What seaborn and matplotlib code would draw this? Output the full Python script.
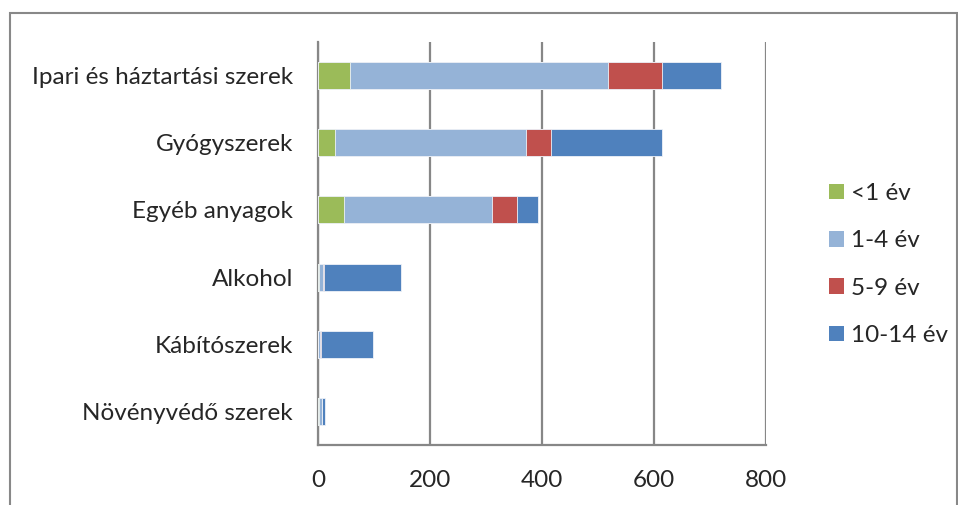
import numpy as np
import pandas as pd
import matplotlib.pyplot as plt
import seaborn as sns
from matplotlib.patches import Patch, Rectangle
from matplotlib.ticker import FixedLocator

# %% data

kategoriak = ['Ipari és háztartási szerek', 'Gyógyszerek', 'Egyéb anyagok',
              'Alkohol', 'Kábítószerek', 'Növényvédő szerek']
korcsoportok = ['<1 év', '1-4 év', '5-9 év', '10-14 év']

ev_0 = [57, 31, 47, 2, 0, 1]
ev_1_4 = [460, 340, 264, 7, 3, 6]
ev_5_9 = [97, 45, 45, 1, 2, 1]
ev_10_14 = [106, 198, 36, 138, 94, 4]

szinek = ['#9BBB59', '#95B3D7', '#C0504D', '#4F81BD']
x_ticks = [0, 200, 400, 600, 800]

# %% plot

sns.set_theme(style='white')
plt.rcParams['font.family'] = ['Lato', 'DejaVu Sans']

df = pd.DataFrame({'Kategoria': kategoriak, '<1 év': ev_0, '1-4 év': ev_1_4,
                   '5-9 év': ev_5_9, '10-14 év': ev_10_14})
cum = df[korcsoportok].cumsum(axis=1)

fig = plt.figure(figsize=(9.58, 5.05), dpi=100)
ax = fig.add_axes([318 / 958, 1 - 445 / 505, (766 - 318) / 958, (445 - 42) / 505])

# stacked bars: draw cumulative totals, biggest first
for col, szin in reversed(list(zip(korcsoportok, szinek))):
    sns.barplot(x=cum[col], y=df['Kategoria'], order=kategoriak, color=szin,
                saturation=1, width=0.4, edgecolor='#eef2f8', linewidth=0.6,
                ax=ax, zorder=3)

ax.set_xlim(0, 800)
ax.set_ylim(len(kategoriak) - 0.5, -0.5)
ax.set_xticks(x_ticks)
ax.set_xlabel('')
ax.set_ylabel('')

grid_c = '#878787'
ax.grid(axis='x', color=grid_c, linewidth=1.6, zorder=0)
ax.grid(axis='y', visible=False)
for s in ['top', 'right']:
    ax.spines[s].set_visible(False)
for s in ['left', 'bottom']:
    ax.spines[s].set_color(grid_c)
    ax.spines[s].set_linewidth(1.6)

ax.tick_params(axis='y', which='major', length=0, pad=18, labelsize=17.5)
ax.yaxis.set_minor_locator(FixedLocator(np.arange(-0.5, len(kategoriak), 1.0)))
ax.tick_params(axis='y', which='minor', length=6, width=1.6, color=grid_c, direction='out')
ax.tick_params(axis='x', length=6, width=1.6, color=grid_c, direction='out',
               pad=12, labelsize=17.5)

handles = [Patch(facecolor=c, edgecolor='none') for c in szinek]
fig.legend(handles, korcsoportok, loc='upper left', bbox_to_anchor=(817 / 958, 1 - 171 / 505),
           frameon=False, fontsize=17.5, handlelength=0.6, handleheight=0.6,
           handletextpad=0.3, labelspacing=1.08, borderpad=0)

fig.patches.append(Rectangle((10 / 958, -0.1), 947 / 958, 1.1 - 13 / 505,
                             transform=fig.transFigure, fill=False,
                             edgecolor='#888888', linewidth=1.5))

fig.savefig('out.png', dpi=100)
